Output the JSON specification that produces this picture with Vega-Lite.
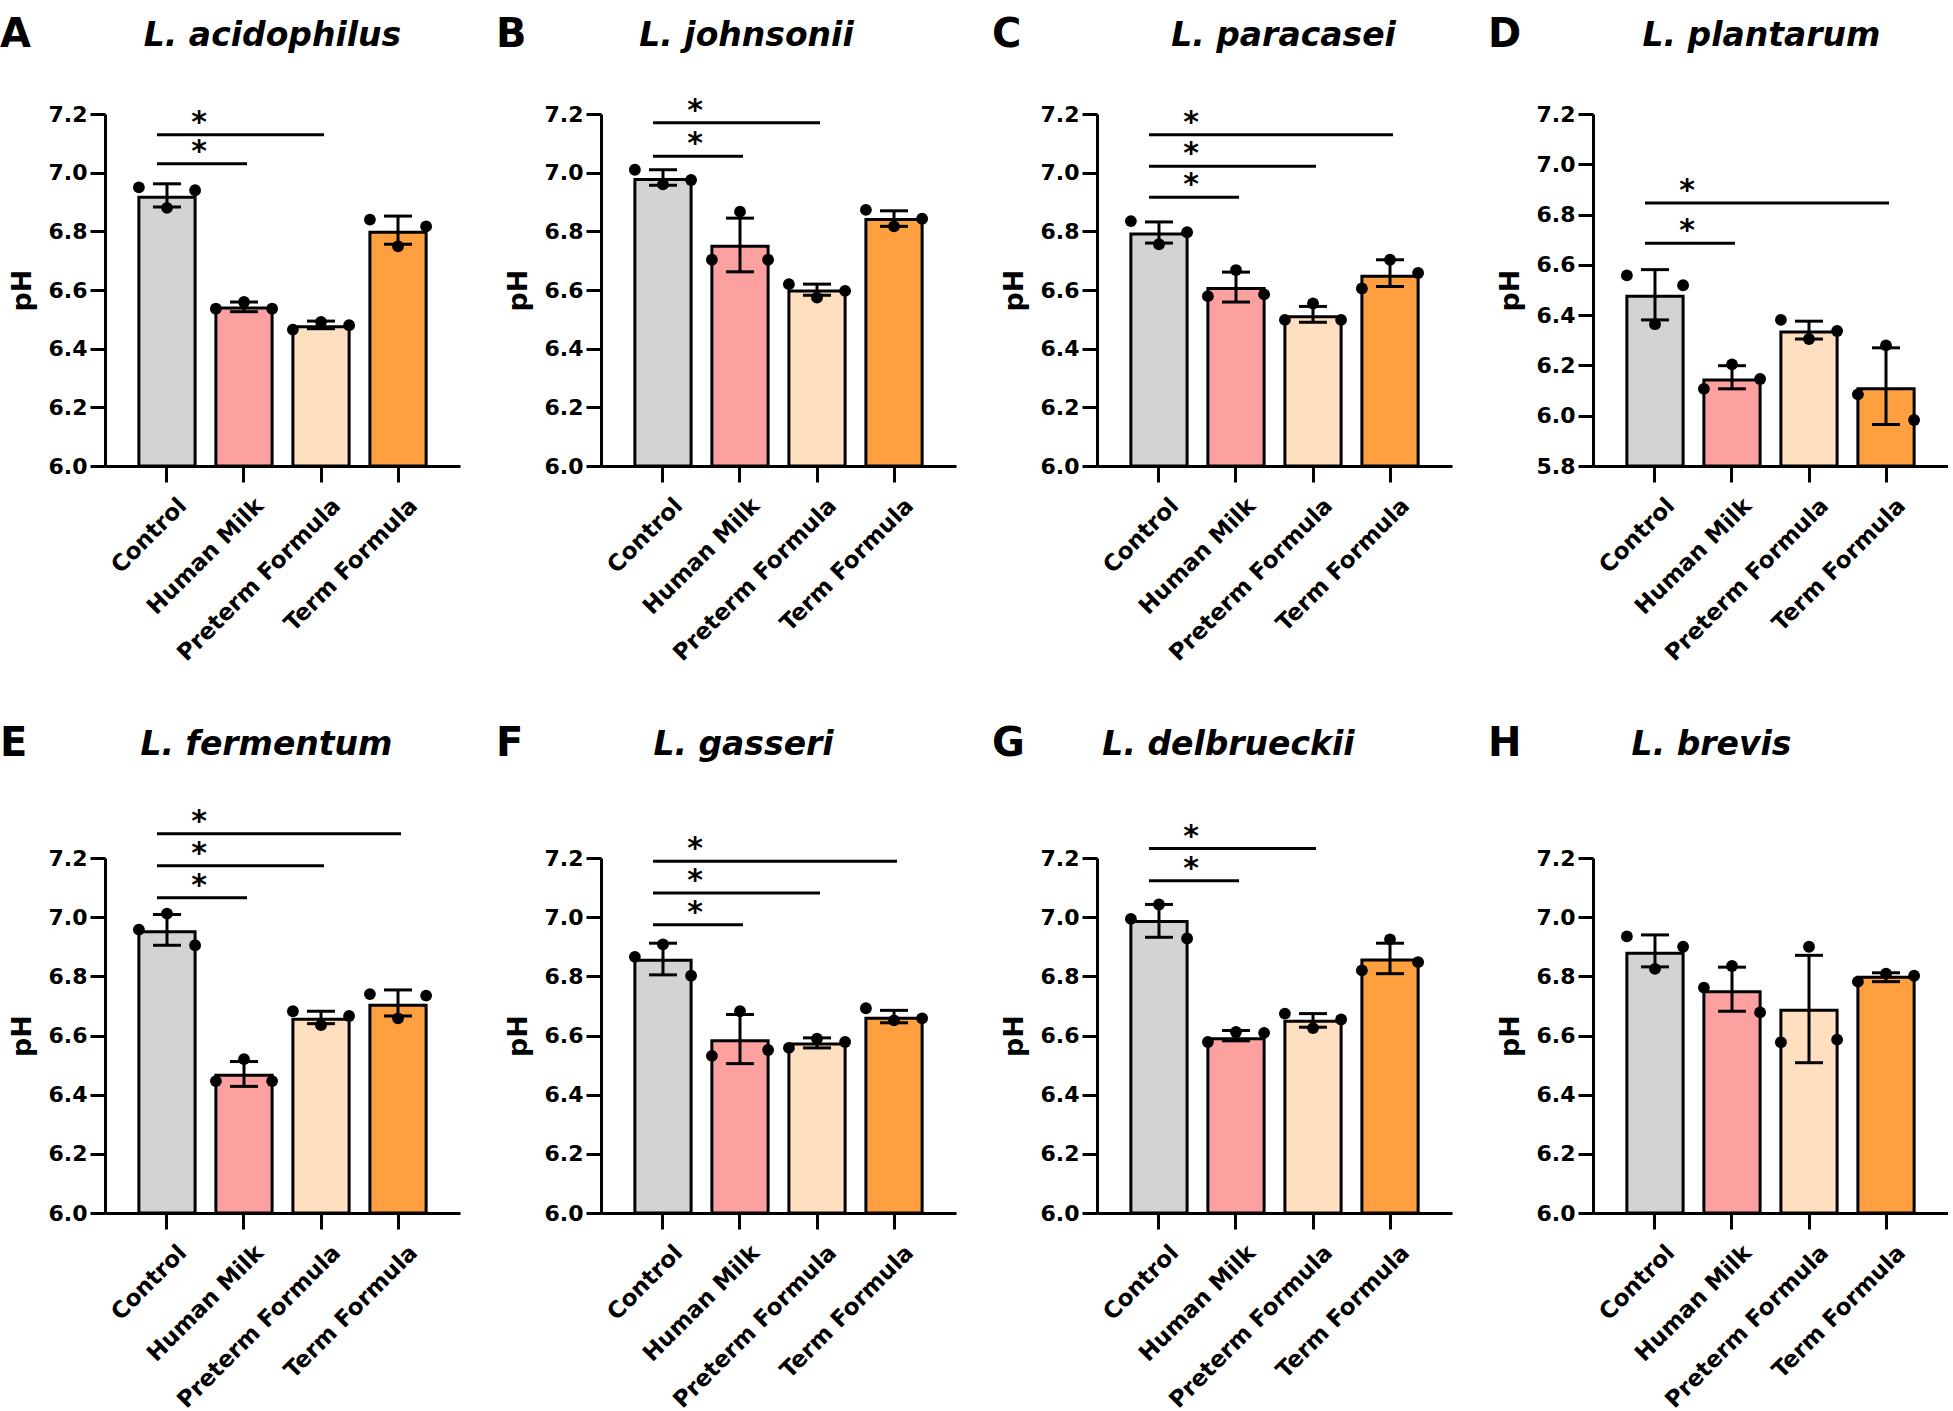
{
"$schema": "https://vega.github.io/schema/vega-lite/v6.json",
"background": "white",
"padding": {"left": 0, "top": 15, "right": 0, "bottom": 0},
"config": {
  "font": "DejaVu Sans",
  "view": {"stroke": null},
  "axis": {"domainColor": "black", "domainWidth": 3, "tickColor": "black", "tickWidth": 3, "labelColor": "black", "labelFontWeight": "bold", "labelFont": "DejaVu Sans", "titleColor": "black", "titleFontWeight": "bold", "titleFont": "DejaVu Sans", "grid": false, "labelLimit": 400},
  "axisY": {"title": "pH", "titleFontSize": 27, "titlePadding": 12, "format": ".1f", "labelFontSize": 22, "tickSize": 15, "labelPadding": 3},
  "title": {"color": "black", "font": "DejaVu Sans"}
},
"datasets": {
  "bars": [
    {"panel":"A","group":"Control","mean":6.916,"lo":6.883,"hi":6.962},
    {"panel":"A","group":"Human Milk","mean":6.539,"lo":6.526,"hi":6.559},
    {"panel":"A","group":"Preterm Formula","mean":6.475,"lo":6.468,"hi":6.494},
    {"panel":"A","group":"Term Formula","mean":6.797,"lo":6.756,"hi":6.852},
    {"panel":"B","group":"Control","mean":6.977,"lo":6.957,"hi":7.010},
    {"panel":"B","group":"Human Milk","mean":6.749,"lo":6.662,"hi":6.845},
    {"panel":"B","group":"Preterm Formula","mean":6.597,"lo":6.582,"hi":6.620},
    {"panel":"B","group":"Term Formula","mean":6.840,"lo":6.817,"hi":6.870},
    {"panel":"C","group":"Control","mean":6.791,"lo":6.760,"hi":6.832},
    {"panel":"C","group":"Human Milk","mean":6.605,"lo":6.559,"hi":6.661},
    {"panel":"C","group":"Preterm Formula","mean":6.509,"lo":6.490,"hi":6.544},
    {"panel":"C","group":"Term Formula","mean":6.647,"lo":6.612,"hi":6.703},
    {"panel":"D","group":"Control","mean":6.475,"lo":6.381,"hi":6.581},
    {"panel":"D","group":"Human Milk","mean":6.142,"lo":6.107,"hi":6.199},
    {"panel":"D","group":"Preterm Formula","mean":6.333,"lo":6.305,"hi":6.376},
    {"panel":"D","group":"Term Formula","mean":6.107,"lo":5.965,"hi":6.270},
    {"panel":"E","group":"Control","mean":6.951,"lo":6.905,"hi":7.009},
    {"panel":"E","group":"Human Milk","mean":6.466,"lo":6.428,"hi":6.512},
    {"panel":"E","group":"Preterm Formula","mean":6.655,"lo":6.640,"hi":6.682},
    {"panel":"E","group":"Term Formula","mean":6.702,"lo":6.666,"hi":6.754},
    {"panel":"F","group":"Control","mean":6.854,"lo":6.805,"hi":6.912},
    {"panel":"F","group":"Human Milk","mean":6.582,"lo":6.505,"hi":6.671},
    {"panel":"F","group":"Preterm Formula","mean":6.571,"lo":6.558,"hi":6.592},
    {"panel":"F","group":"Term Formula","mean":6.658,"lo":6.643,"hi":6.685},
    {"panel":"G","group":"Control","mean":6.985,"lo":6.932,"hi":7.043},
    {"panel":"G","group":"Human Milk","mean":6.589,"lo":6.582,"hi":6.617},
    {"panel":"G","group":"Preterm Formula","mean":6.648,"lo":6.628,"hi":6.674},
    {"panel":"G","group":"Term Formula","mean":6.855,"lo":6.809,"hi":6.912},
    {"panel":"H","group":"Control","mean":6.878,"lo":6.832,"hi":6.940},
    {"panel":"H","group":"Human Milk","mean":6.748,"lo":6.682,"hi":6.831},
    {"panel":"H","group":"Preterm Formula","mean":6.685,"lo":6.508,"hi":6.871},
    {"panel":"H","group":"Term Formula","mean":6.797,"lo":6.782,"hi":6.812}
  ],
  "points": [
    {"panel":"A","group":"Control","rep":1,"pH":6.95},{"panel":"A","group":"Control","rep":2,"pH":6.88},{"panel":"A","group":"Control","rep":3,"pH":6.94},
    {"panel":"A","group":"Human Milk","rep":1,"pH":6.536},{"panel":"A","group":"Human Milk","rep":2,"pH":6.559},{"panel":"A","group":"Human Milk","rep":3,"pH":6.536},
    {"panel":"A","group":"Preterm Formula","rep":1,"pH":6.465},{"panel":"A","group":"Preterm Formula","rep":2,"pH":6.491},{"panel":"A","group":"Preterm Formula","rep":3,"pH":6.48},
    {"panel":"A","group":"Term Formula","rep":1,"pH":6.84},{"panel":"A","group":"Term Formula","rep":2,"pH":6.749},{"panel":"A","group":"Term Formula","rep":3,"pH":6.817},
    {"panel":"B","group":"Control","rep":1,"pH":7.01},{"panel":"B","group":"Control","rep":2,"pH":6.96},{"panel":"B","group":"Control","rep":3,"pH":6.975},
    {"panel":"B","group":"Human Milk","rep":1,"pH":6.703},{"panel":"B","group":"Human Milk","rep":2,"pH":6.867},{"panel":"B","group":"Human Milk","rep":3,"pH":6.703},
    {"panel":"B","group":"Preterm Formula","rep":1,"pH":6.62},{"panel":"B","group":"Preterm Formula","rep":2,"pH":6.574},{"panel":"B","group":"Preterm Formula","rep":3,"pH":6.597},
    {"panel":"B","group":"Term Formula","rep":1,"pH":6.873},{"panel":"B","group":"Term Formula","rep":2,"pH":6.817},{"panel":"B","group":"Term Formula","rep":3,"pH":6.843},
    {"panel":"C","group":"Control","rep":1,"pH":6.835},{"panel":"C","group":"Control","rep":2,"pH":6.756},{"panel":"C","group":"Control","rep":3,"pH":6.797},
    {"panel":"C","group":"Human Milk","rep":1,"pH":6.579},{"panel":"C","group":"Human Milk","rep":2,"pH":6.668},{"panel":"C","group":"Human Milk","rep":3,"pH":6.585},
    {"panel":"C","group":"Preterm Formula","rep":1,"pH":6.498},{"panel":"C","group":"Preterm Formula","rep":2,"pH":6.554},{"panel":"C","group":"Preterm Formula","rep":3,"pH":6.498},
    {"panel":"C","group":"Term Formula","rep":1,"pH":6.605},{"panel":"C","group":"Term Formula","rep":2,"pH":6.703},{"panel":"C","group":"Term Formula","rep":3,"pH":6.658},
    {"panel":"D","group":"Control","rep":1,"pH":6.558},{"panel":"D","group":"Control","rep":2,"pH":6.364},{"panel":"D","group":"Control","rep":3,"pH":6.519},
    {"panel":"D","group":"Human Milk","rep":1,"pH":6.107},{"panel":"D","group":"Human Milk","rep":2,"pH":6.204},{"panel":"D","group":"Human Milk","rep":3,"pH":6.146},
    {"panel":"D","group":"Preterm Formula","rep":1,"pH":6.381},{"panel":"D","group":"Preterm Formula","rep":2,"pH":6.305},{"panel":"D","group":"Preterm Formula","rep":3,"pH":6.337},
    {"panel":"D","group":"Term Formula","rep":1,"pH":6.085},{"panel":"D","group":"Term Formula","rep":2,"pH":6.28},{"panel":"D","group":"Term Formula","rep":3,"pH":5.983},
    {"panel":"E","group":"Control","rep":1,"pH":6.958},{"panel":"E","group":"Control","rep":2,"pH":7.012},{"panel":"E","group":"Control","rep":3,"pH":6.905},
    {"panel":"E","group":"Human Milk","rep":1,"pH":6.446},{"panel":"E","group":"Human Milk","rep":2,"pH":6.52},{"panel":"E","group":"Human Milk","rep":3,"pH":6.446},
    {"panel":"E","group":"Preterm Formula","rep":1,"pH":6.682},{"panel":"E","group":"Preterm Formula","rep":2,"pH":6.635},{"panel":"E","group":"Preterm Formula","rep":3,"pH":6.666},
    {"panel":"E","group":"Term Formula","rep":1,"pH":6.74},{"panel":"E","group":"Term Formula","rep":2,"pH":6.658},{"panel":"E","group":"Term Formula","rep":3,"pH":6.735},
    {"panel":"F","group":"Control","rep":1,"pH":6.866},{"panel":"F","group":"Control","rep":2,"pH":6.908},{"panel":"F","group":"Control","rep":3,"pH":6.802},
    {"panel":"F","group":"Human Milk","rep":1,"pH":6.531},{"panel":"F","group":"Human Milk","rep":2,"pH":6.682},{"panel":"F","group":"Human Milk","rep":3,"pH":6.551},
    {"panel":"F","group":"Preterm Formula","rep":1,"pH":6.558},{"panel":"F","group":"Preterm Formula","rep":2,"pH":6.589},{"panel":"F","group":"Preterm Formula","rep":3,"pH":6.578},
    {"panel":"F","group":"Term Formula","rep":1,"pH":6.692},{"panel":"F","group":"Term Formula","rep":2,"pH":6.651},{"panel":"F","group":"Term Formula","rep":3,"pH":6.658},
    {"panel":"G","group":"Control","rep":1,"pH":6.994},{"panel":"G","group":"Control","rep":2,"pH":7.043},{"panel":"G","group":"Control","rep":3,"pH":6.928},
    {"panel":"G","group":"Human Milk","rep":1,"pH":6.578},{"panel":"G","group":"Human Milk","rep":2,"pH":6.612},{"panel":"G","group":"Human Milk","rep":3,"pH":6.609},
    {"panel":"G","group":"Preterm Formula","rep":1,"pH":6.674},{"panel":"G","group":"Preterm Formula","rep":2,"pH":6.625},{"panel":"G","group":"Preterm Formula","rep":3,"pH":6.654},
    {"panel":"G","group":"Term Formula","rep":1,"pH":6.82},{"panel":"G","group":"Term Formula","rep":2,"pH":6.925},{"panel":"G","group":"Term Formula","rep":3,"pH":6.848},
    {"panel":"H","group":"Control","rep":1,"pH":6.935},{"panel":"H","group":"Control","rep":2,"pH":6.825},{"panel":"H","group":"Control","rep":3,"pH":6.9},
    {"panel":"H","group":"Human Milk","rep":1,"pH":6.762},{"panel":"H","group":"Human Milk","rep":2,"pH":6.835},{"panel":"H","group":"Human Milk","rep":3,"pH":6.678},
    {"panel":"H","group":"Preterm Formula","rep":1,"pH":6.577},{"panel":"H","group":"Preterm Formula","rep":2,"pH":6.9},{"panel":"H","group":"Preterm Formula","rep":3,"pH":6.586},
    {"panel":"H","group":"Term Formula","rep":1,"pH":6.782},{"panel":"H","group":"Term Formula","rep":2,"pH":6.809},{"panel":"H","group":"Term Formula","rep":3,"pH":6.802}
  ],
  "sig": [
    {"panel":"A","from":"Control","to":"Human Milk","y":7.03},
    {"panel":"A","from":"Control","to":"Preterm Formula","y":7.129},
    {"panel":"B","from":"Control","to":"Human Milk","y":7.056},
    {"panel":"B","from":"Control","to":"Preterm Formula","y":7.17},
    {"panel":"C","from":"Control","to":"Human Milk","y":6.916},
    {"panel":"C","from":"Control","to":"Preterm Formula","y":7.022},
    {"panel":"C","from":"Control","to":"Term Formula","y":7.129},
    {"panel":"D","from":"Control","to":"Human Milk","y":6.686},
    {"panel":"D","from":"Control","to":"Term Formula","y":6.846},
    {"panel":"E","from":"Control","to":"Human Milk","y":7.066},
    {"panel":"E","from":"Control","to":"Preterm Formula","y":7.174},
    {"panel":"E","from":"Control","to":"Term Formula","y":7.282},
    {"panel":"F","from":"Control","to":"Human Milk","y":6.974},
    {"panel":"F","from":"Control","to":"Preterm Formula","y":7.082},
    {"panel":"F","from":"Control","to":"Term Formula","y":7.189},
    {"panel":"G","from":"Control","to":"Human Milk","y":7.123},
    {"panel":"G","from":"Control","to":"Preterm Formula","y":7.232}
  ]
},
"columns": 4,
"spacing": {"row": 58, "column": 36},
"concat": [
{"width":355,"height":352,
 "title":{"text":"A","anchor":"start","fontSize":40,"fontWeight":"bold","dx":-8,"dy":40},
 "resolve":{"axis":{"x":"independent"},"scale":{"xOffset":"independent"}},
 "layer":[
  {"data":{"name":"bars"},"transform":[{"filter":"datum.panel==='A'"}],"mark":{"type":"bar","stroke":"black","strokeWidth":3,"strokeJoin":"miter"},
   "encoding":{"x":{"field":"group","type":"nominal","sort":["Control","Human Milk","Preterm Formula","Term Formula"],"scale":{"paddingInner":0.27,"paddingOuter":0.44},"axis":{"title":null,"labelAngle":-45,"labelFontSize":23,"tickSize":16,"labelPadding":12,"labelOffset":8}},
    "y":{"field":"mean","type":"quantitative","scale":{"domain":[6,7.2],"zero":false,"nice":false},"axis":{"title":"pH","values":[6,6.2,6.4,6.6,6.8,7,7.2]}},
    "y2":{"datum":6},
    "fill":{"field":"group","type":"nominal","scale":{"domain":["Control","Human Milk","Preterm Formula","Term Formula"],"range":["#D3D3D3","#FDA0A0","#FFDFBF","#FFA040"]},"legend":null}}},
  {"data":{"name":"bars"},"transform":[{"filter":"datum.panel==='A'"}],"mark":{"type":"rule","color":"black","strokeWidth":3},
   "encoding":{"x":{"field":"group","type":"nominal","sort":["Control","Human Milk","Preterm Formula","Term Formula"],"axis":null},"y":{"field":"lo","type":"quantitative","scale":{"domain":[6,7.2],"zero":false,"nice":false},"axis":{"title":"pH","values":[6,6.2,6.4,6.6,6.8,7,7.2]}},"y2":{"field":"hi"}}},
  {"data":{"name":"bars"},"transform":[{"filter":"datum.panel==='A'"}],"mark":{"type":"tick","orient":"horizontal","size":28,"thickness":3,"color":"black","opacity":1},
   "encoding":{"x":{"field":"group","type":"nominal","sort":["Control","Human Milk","Preterm Formula","Term Formula"],"axis":null},"y":{"field":"lo","type":"quantitative","scale":{"domain":[6,7.2],"zero":false,"nice":false},"axis":{"title":"pH","values":[6,6.2,6.4,6.6,6.8,7,7.2]}}}},
  {"data":{"name":"bars"},"transform":[{"filter":"datum.panel==='A'"}],"mark":{"type":"tick","orient":"horizontal","size":28,"thickness":3,"color":"black","opacity":1},
   "encoding":{"x":{"field":"group","type":"nominal","sort":["Control","Human Milk","Preterm Formula","Term Formula"],"axis":null},"y":{"field":"hi","type":"quantitative","scale":{"domain":[6,7.2],"zero":false,"nice":false},"axis":{"title":"pH","values":[6,6.2,6.4,6.6,6.8,7,7.2]}}}},
  {"data":{"name":"points"},"transform":[{"filter":"datum.panel==='A'"}],"mark":{"type":"circle","color":"black","size":140,"opacity":1},
   "encoding":{"x":{"field":"group","type":"nominal","sort":["Control","Human Milk","Preterm Formula","Term Formula"],"axis":{"orient":"top","title":"L. acidophilus","labels":false,"ticks":false,"domain":false,"titleFontSize":33,"titleFontStyle":"italic","titleFontWeight":"bold","titlePadding":62,"titleX":167,"titleAlign":"center"}},
    "xOffset":{"field":"rep","type":"nominal","scale":{"paddingInner":0,"paddingOuter":0}},
    "y":{"field":"pH","type":"quantitative","scale":{"domain":[6,7.2],"zero":false,"nice":false},"axis":{"title":"pH","values":[6,6.2,6.4,6.6,6.8,7,7.2]}}}},
  {"data":{"name":"sig"},"transform":[{"filter":"datum.panel==='A'"}],"mark":{"type":"rule","color":"black","strokeWidth":3,"xOffset":-10,"x2Offset":3},
   "encoding":{"x":{"field":"from","type":"nominal","sort":["Control","Human Milk","Preterm Formula","Term Formula"],"axis":null},"x2":{"field":"to"},"y":{"field":"y","type":"quantitative","scale":{"domain":[6,7.2],"zero":false,"nice":false},"axis":{"title":"pH","values":[6,6.2,6.4,6.6,6.8,7,7.2]}}}},
  {"data":{"name":"sig"},"transform":[{"filter":"datum.panel==='A'"}],"mark":{"type":"text","text":"*","fontSize":30,"fontWeight":"bold","dx":32,"dy":-3,"color":"black","baseline":"alphabetic"},
   "encoding":{"x":{"field":"from","type":"nominal","sort":["Control","Human Milk","Preterm Formula","Term Formula"],"axis":null},"y":{"field":"y","type":"quantitative","scale":{"domain":[6,7.2],"zero":false,"nice":false},"axis":{"title":"pH","values":[6,6.2,6.4,6.6,6.8,7,7.2]}}}}
 ]},
{"width":355,"height":352,
 "title":{"text":"B","anchor":"start","fontSize":40,"fontWeight":"bold","dx":-8,"dy":40},
 "resolve":{"axis":{"x":"independent"},"scale":{"xOffset":"independent"}},
 "layer":[
  {"data":{"name":"bars"},"transform":[{"filter":"datum.panel==='B'"}],"mark":{"type":"bar","stroke":"black","strokeWidth":3,"strokeJoin":"miter"},
   "encoding":{"x":{"field":"group","type":"nominal","sort":["Control","Human Milk","Preterm Formula","Term Formula"],"scale":{"paddingInner":0.27,"paddingOuter":0.44},"axis":{"title":null,"labelAngle":-45,"labelFontSize":23,"tickSize":16,"labelPadding":12,"labelOffset":8}},
    "y":{"field":"mean","type":"quantitative","scale":{"domain":[6,7.2],"zero":false,"nice":false},"axis":{"title":"pH","values":[6,6.2,6.4,6.6,6.8,7,7.2]}},
    "y2":{"datum":6},
    "fill":{"field":"group","type":"nominal","scale":{"domain":["Control","Human Milk","Preterm Formula","Term Formula"],"range":["#D3D3D3","#FDA0A0","#FFDFBF","#FFA040"]},"legend":null}}},
  {"data":{"name":"bars"},"transform":[{"filter":"datum.panel==='B'"}],"mark":{"type":"rule","color":"black","strokeWidth":3},
   "encoding":{"x":{"field":"group","type":"nominal","sort":["Control","Human Milk","Preterm Formula","Term Formula"],"axis":null},"y":{"field":"lo","type":"quantitative","scale":{"domain":[6,7.2],"zero":false,"nice":false},"axis":{"title":"pH","values":[6,6.2,6.4,6.6,6.8,7,7.2]}},"y2":{"field":"hi"}}},
  {"data":{"name":"bars"},"transform":[{"filter":"datum.panel==='B'"}],"mark":{"type":"tick","orient":"horizontal","size":28,"thickness":3,"color":"black","opacity":1},
   "encoding":{"x":{"field":"group","type":"nominal","sort":["Control","Human Milk","Preterm Formula","Term Formula"],"axis":null},"y":{"field":"lo","type":"quantitative","scale":{"domain":[6,7.2],"zero":false,"nice":false},"axis":{"title":"pH","values":[6,6.2,6.4,6.6,6.8,7,7.2]}}}},
  {"data":{"name":"bars"},"transform":[{"filter":"datum.panel==='B'"}],"mark":{"type":"tick","orient":"horizontal","size":28,"thickness":3,"color":"black","opacity":1},
   "encoding":{"x":{"field":"group","type":"nominal","sort":["Control","Human Milk","Preterm Formula","Term Formula"],"axis":null},"y":{"field":"hi","type":"quantitative","scale":{"domain":[6,7.2],"zero":false,"nice":false},"axis":{"title":"pH","values":[6,6.2,6.4,6.6,6.8,7,7.2]}}}},
  {"data":{"name":"points"},"transform":[{"filter":"datum.panel==='B'"}],"mark":{"type":"circle","color":"black","size":140,"opacity":1},
   "encoding":{"x":{"field":"group","type":"nominal","sort":["Control","Human Milk","Preterm Formula","Term Formula"],"axis":{"orient":"top","title":"L. johnsonii","labels":false,"ticks":false,"domain":false,"titleFontSize":33,"titleFontStyle":"italic","titleFontWeight":"bold","titlePadding":62,"titleX":145,"titleAlign":"center"}},
    "xOffset":{"field":"rep","type":"nominal","scale":{"paddingInner":0,"paddingOuter":0}},
    "y":{"field":"pH","type":"quantitative","scale":{"domain":[6,7.2],"zero":false,"nice":false},"axis":{"title":"pH","values":[6,6.2,6.4,6.6,6.8,7,7.2]}}}},
  {"data":{"name":"sig"},"transform":[{"filter":"datum.panel==='B'"}],"mark":{"type":"rule","color":"black","strokeWidth":3,"xOffset":-10,"x2Offset":3},
   "encoding":{"x":{"field":"from","type":"nominal","sort":["Control","Human Milk","Preterm Formula","Term Formula"],"axis":null},"x2":{"field":"to"},"y":{"field":"y","type":"quantitative","scale":{"domain":[6,7.2],"zero":false,"nice":false},"axis":{"title":"pH","values":[6,6.2,6.4,6.6,6.8,7,7.2]}}}},
  {"data":{"name":"sig"},"transform":[{"filter":"datum.panel==='B'"}],"mark":{"type":"text","text":"*","fontSize":30,"fontWeight":"bold","dx":32,"dy":-3,"color":"black","baseline":"alphabetic"},
   "encoding":{"x":{"field":"from","type":"nominal","sort":["Control","Human Milk","Preterm Formula","Term Formula"],"axis":null},"y":{"field":"y","type":"quantitative","scale":{"domain":[6,7.2],"zero":false,"nice":false},"axis":{"title":"pH","values":[6,6.2,6.4,6.6,6.8,7,7.2]}}}}
 ]},
{"width":355,"height":352,
 "title":{"text":"C","anchor":"start","fontSize":40,"fontWeight":"bold","dx":-8,"dy":40},
 "resolve":{"axis":{"x":"independent"},"scale":{"xOffset":"independent"}},
 "layer":[
  {"data":{"name":"bars"},"transform":[{"filter":"datum.panel==='C'"}],"mark":{"type":"bar","stroke":"black","strokeWidth":3,"strokeJoin":"miter"},
   "encoding":{"x":{"field":"group","type":"nominal","sort":["Control","Human Milk","Preterm Formula","Term Formula"],"scale":{"paddingInner":0.27,"paddingOuter":0.44},"axis":{"title":null,"labelAngle":-45,"labelFontSize":23,"tickSize":16,"labelPadding":12,"labelOffset":8}},
    "y":{"field":"mean","type":"quantitative","scale":{"domain":[6,7.2],"zero":false,"nice":false},"axis":{"title":"pH","values":[6,6.2,6.4,6.6,6.8,7,7.2]}},
    "y2":{"datum":6},
    "fill":{"field":"group","type":"nominal","scale":{"domain":["Control","Human Milk","Preterm Formula","Term Formula"],"range":["#D3D3D3","#FDA0A0","#FFDFBF","#FFA040"]},"legend":null}}},
  {"data":{"name":"bars"},"transform":[{"filter":"datum.panel==='C'"}],"mark":{"type":"rule","color":"black","strokeWidth":3},
   "encoding":{"x":{"field":"group","type":"nominal","sort":["Control","Human Milk","Preterm Formula","Term Formula"],"axis":null},"y":{"field":"lo","type":"quantitative","scale":{"domain":[6,7.2],"zero":false,"nice":false},"axis":{"title":"pH","values":[6,6.2,6.4,6.6,6.8,7,7.2]}},"y2":{"field":"hi"}}},
  {"data":{"name":"bars"},"transform":[{"filter":"datum.panel==='C'"}],"mark":{"type":"tick","orient":"horizontal","size":28,"thickness":3,"color":"black","opacity":1},
   "encoding":{"x":{"field":"group","type":"nominal","sort":["Control","Human Milk","Preterm Formula","Term Formula"],"axis":null},"y":{"field":"lo","type":"quantitative","scale":{"domain":[6,7.2],"zero":false,"nice":false},"axis":{"title":"pH","values":[6,6.2,6.4,6.6,6.8,7,7.2]}}}},
  {"data":{"name":"bars"},"transform":[{"filter":"datum.panel==='C'"}],"mark":{"type":"tick","orient":"horizontal","size":28,"thickness":3,"color":"black","opacity":1},
   "encoding":{"x":{"field":"group","type":"nominal","sort":["Control","Human Milk","Preterm Formula","Term Formula"],"axis":null},"y":{"field":"hi","type":"quantitative","scale":{"domain":[6,7.2],"zero":false,"nice":false},"axis":{"title":"pH","values":[6,6.2,6.4,6.6,6.8,7,7.2]}}}},
  {"data":{"name":"points"},"transform":[{"filter":"datum.panel==='C'"}],"mark":{"type":"circle","color":"black","size":140,"opacity":1},
   "encoding":{"x":{"field":"group","type":"nominal","sort":["Control","Human Milk","Preterm Formula","Term Formula"],"axis":{"orient":"top","title":"L. paracasei","labels":false,"ticks":false,"domain":false,"titleFontSize":33,"titleFontStyle":"italic","titleFontWeight":"bold","titlePadding":62,"titleX":186,"titleAlign":"center"}},
    "xOffset":{"field":"rep","type":"nominal","scale":{"paddingInner":0,"paddingOuter":0}},
    "y":{"field":"pH","type":"quantitative","scale":{"domain":[6,7.2],"zero":false,"nice":false},"axis":{"title":"pH","values":[6,6.2,6.4,6.6,6.8,7,7.2]}}}},
  {"data":{"name":"sig"},"transform":[{"filter":"datum.panel==='C'"}],"mark":{"type":"rule","color":"black","strokeWidth":3,"xOffset":-10,"x2Offset":3},
   "encoding":{"x":{"field":"from","type":"nominal","sort":["Control","Human Milk","Preterm Formula","Term Formula"],"axis":null},"x2":{"field":"to"},"y":{"field":"y","type":"quantitative","scale":{"domain":[6,7.2],"zero":false,"nice":false},"axis":{"title":"pH","values":[6,6.2,6.4,6.6,6.8,7,7.2]}}}},
  {"data":{"name":"sig"},"transform":[{"filter":"datum.panel==='C'"}],"mark":{"type":"text","text":"*","fontSize":30,"fontWeight":"bold","dx":32,"dy":-3,"color":"black","baseline":"alphabetic"},
   "encoding":{"x":{"field":"from","type":"nominal","sort":["Control","Human Milk","Preterm Formula","Term Formula"],"axis":null},"y":{"field":"y","type":"quantitative","scale":{"domain":[6,7.2],"zero":false,"nice":false},"axis":{"title":"pH","values":[6,6.2,6.4,6.6,6.8,7,7.2]}}}}
 ]},
{"width":355,"height":352,
 "title":{"text":"D","anchor":"start","fontSize":40,"fontWeight":"bold","dx":-8,"dy":40},
 "resolve":{"axis":{"x":"independent"},"scale":{"xOffset":"independent"}},
 "layer":[
  {"data":{"name":"bars"},"transform":[{"filter":"datum.panel==='D'"}],"mark":{"type":"bar","stroke":"black","strokeWidth":3,"strokeJoin":"miter"},
   "encoding":{"x":{"field":"group","type":"nominal","sort":["Control","Human Milk","Preterm Formula","Term Formula"],"scale":{"paddingInner":0.27,"paddingOuter":0.44},"axis":{"title":null,"labelAngle":-45,"labelFontSize":23,"tickSize":16,"labelPadding":12,"labelOffset":8}},
    "y":{"field":"mean","type":"quantitative","scale":{"domain":[5.8,7.2],"zero":false,"nice":false},"axis":{"title":"pH","values":[5.8,6,6.2,6.4,6.6,6.8,7,7.2]}},
    "y2":{"datum":5.8},
    "fill":{"field":"group","type":"nominal","scale":{"domain":["Control","Human Milk","Preterm Formula","Term Formula"],"range":["#D3D3D3","#FDA0A0","#FFDFBF","#FFA040"]},"legend":null}}},
  {"data":{"name":"bars"},"transform":[{"filter":"datum.panel==='D'"}],"mark":{"type":"rule","color":"black","strokeWidth":3},
   "encoding":{"x":{"field":"group","type":"nominal","sort":["Control","Human Milk","Preterm Formula","Term Formula"],"axis":null},"y":{"field":"lo","type":"quantitative","scale":{"domain":[5.8,7.2],"zero":false,"nice":false},"axis":{"title":"pH","values":[5.8,6,6.2,6.4,6.6,6.8,7,7.2]}},"y2":{"field":"hi"}}},
  {"data":{"name":"bars"},"transform":[{"filter":"datum.panel==='D'"}],"mark":{"type":"tick","orient":"horizontal","size":28,"thickness":3,"color":"black","opacity":1},
   "encoding":{"x":{"field":"group","type":"nominal","sort":["Control","Human Milk","Preterm Formula","Term Formula"],"axis":null},"y":{"field":"lo","type":"quantitative","scale":{"domain":[5.8,7.2],"zero":false,"nice":false},"axis":{"title":"pH","values":[5.8,6,6.2,6.4,6.6,6.8,7,7.2]}}}},
  {"data":{"name":"bars"},"transform":[{"filter":"datum.panel==='D'"}],"mark":{"type":"tick","orient":"horizontal","size":28,"thickness":3,"color":"black","opacity":1},
   "encoding":{"x":{"field":"group","type":"nominal","sort":["Control","Human Milk","Preterm Formula","Term Formula"],"axis":null},"y":{"field":"hi","type":"quantitative","scale":{"domain":[5.8,7.2],"zero":false,"nice":false},"axis":{"title":"pH","values":[5.8,6,6.2,6.4,6.6,6.8,7,7.2]}}}},
  {"data":{"name":"points"},"transform":[{"filter":"datum.panel==='D'"}],"mark":{"type":"circle","color":"black","size":140,"opacity":1},
   "encoding":{"x":{"field":"group","type":"nominal","sort":["Control","Human Milk","Preterm Formula","Term Formula"],"axis":{"orient":"top","title":"L. plantarum","labels":false,"ticks":false,"domain":false,"titleFontSize":33,"titleFontStyle":"italic","titleFontWeight":"bold","titlePadding":62,"titleX":168,"titleAlign":"center"}},
    "xOffset":{"field":"rep","type":"nominal","scale":{"paddingInner":0,"paddingOuter":0}},
    "y":{"field":"pH","type":"quantitative","scale":{"domain":[5.8,7.2],"zero":false,"nice":false},"axis":{"title":"pH","values":[5.8,6,6.2,6.4,6.6,6.8,7,7.2]}}}},
  {"data":{"name":"sig"},"transform":[{"filter":"datum.panel==='D'"}],"mark":{"type":"rule","color":"black","strokeWidth":3,"xOffset":-10,"x2Offset":3},
   "encoding":{"x":{"field":"from","type":"nominal","sort":["Control","Human Milk","Preterm Formula","Term Formula"],"axis":null},"x2":{"field":"to"},"y":{"field":"y","type":"quantitative","scale":{"domain":[5.8,7.2],"zero":false,"nice":false},"axis":{"title":"pH","values":[5.8,6,6.2,6.4,6.6,6.8,7,7.2]}}}},
  {"data":{"name":"sig"},"transform":[{"filter":"datum.panel==='D'"}],"mark":{"type":"text","text":"*","fontSize":30,"fontWeight":"bold","dx":32,"dy":-3,"color":"black","baseline":"alphabetic"},
   "encoding":{"x":{"field":"from","type":"nominal","sort":["Control","Human Milk","Preterm Formula","Term Formula"],"axis":null},"y":{"field":"y","type":"quantitative","scale":{"domain":[5.8,7.2],"zero":false,"nice":false},"axis":{"title":"pH","values":[5.8,6,6.2,6.4,6.6,6.8,7,7.2]}}}}
 ]},
{"width":355,"height":355,
 "title":{"text":"E","anchor":"start","fontSize":40,"fontWeight":"bold","dx":-8,"dy":40},
 "resolve":{"axis":{"x":"independent"},"scale":{"xOffset":"independent"}},
 "layer":[
  {"data":{"name":"bars"},"transform":[{"filter":"datum.panel==='E'"}],"mark":{"type":"bar","stroke":"black","strokeWidth":3,"strokeJoin":"miter"},
   "encoding":{"x":{"field":"group","type":"nominal","sort":["Control","Human Milk","Preterm Formula","Term Formula"],"scale":{"paddingInner":0.27,"paddingOuter":0.44},"axis":{"title":null,"labelAngle":-45,"labelFontSize":23,"tickSize":16,"labelPadding":12,"labelOffset":8}},
    "y":{"field":"mean","type":"quantitative","scale":{"domain":[6,7.2],"zero":false,"nice":false},"axis":{"title":"pH","values":[6,6.2,6.4,6.6,6.8,7,7.2]}},
    "y2":{"datum":6},
    "fill":{"field":"group","type":"nominal","scale":{"domain":["Control","Human Milk","Preterm Formula","Term Formula"],"range":["#D3D3D3","#FDA0A0","#FFDFBF","#FFA040"]},"legend":null}}},
  {"data":{"name":"bars"},"transform":[{"filter":"datum.panel==='E'"}],"mark":{"type":"rule","color":"black","strokeWidth":3},
   "encoding":{"x":{"field":"group","type":"nominal","sort":["Control","Human Milk","Preterm Formula","Term Formula"],"axis":null},"y":{"field":"lo","type":"quantitative","scale":{"domain":[6,7.2],"zero":false,"nice":false},"axis":{"title":"pH","values":[6,6.2,6.4,6.6,6.8,7,7.2]}},"y2":{"field":"hi"}}},
  {"data":{"name":"bars"},"transform":[{"filter":"datum.panel==='E'"}],"mark":{"type":"tick","orient":"horizontal","size":28,"thickness":3,"color":"black","opacity":1},
   "encoding":{"x":{"field":"group","type":"nominal","sort":["Control","Human Milk","Preterm Formula","Term Formula"],"axis":null},"y":{"field":"lo","type":"quantitative","scale":{"domain":[6,7.2],"zero":false,"nice":false},"axis":{"title":"pH","values":[6,6.2,6.4,6.6,6.8,7,7.2]}}}},
  {"data":{"name":"bars"},"transform":[{"filter":"datum.panel==='E'"}],"mark":{"type":"tick","orient":"horizontal","size":28,"thickness":3,"color":"black","opacity":1},
   "encoding":{"x":{"field":"group","type":"nominal","sort":["Control","Human Milk","Preterm Formula","Term Formula"],"axis":null},"y":{"field":"hi","type":"quantitative","scale":{"domain":[6,7.2],"zero":false,"nice":false},"axis":{"title":"pH","values":[6,6.2,6.4,6.6,6.8,7,7.2]}}}},
  {"data":{"name":"points"},"transform":[{"filter":"datum.panel==='E'"}],"mark":{"type":"circle","color":"black","size":140,"opacity":1},
   "encoding":{"x":{"field":"group","type":"nominal","sort":["Control","Human Milk","Preterm Formula","Term Formula"],"axis":{"orient":"top","title":"L. fermentum","labels":false,"ticks":false,"domain":false,"titleFontSize":33,"titleFontStyle":"italic","titleFontWeight":"bold","titlePadding":97,"titleX":161,"titleAlign":"center"}},
    "xOffset":{"field":"rep","type":"nominal","scale":{"paddingInner":0,"paddingOuter":0}},
    "y":{"field":"pH","type":"quantitative","scale":{"domain":[6,7.2],"zero":false,"nice":false},"axis":{"title":"pH","values":[6,6.2,6.4,6.6,6.8,7,7.2]}}}},
  {"data":{"name":"sig"},"transform":[{"filter":"datum.panel==='E'"}],"mark":{"type":"rule","color":"black","strokeWidth":3,"xOffset":-10,"x2Offset":3},
   "encoding":{"x":{"field":"from","type":"nominal","sort":["Control","Human Milk","Preterm Formula","Term Formula"],"axis":null},"x2":{"field":"to"},"y":{"field":"y","type":"quantitative","scale":{"domain":[6,7.2],"zero":false,"nice":false},"axis":{"title":"pH","values":[6,6.2,6.4,6.6,6.8,7,7.2]}}}},
  {"data":{"name":"sig"},"transform":[{"filter":"datum.panel==='E'"}],"mark":{"type":"text","text":"*","fontSize":30,"fontWeight":"bold","dx":32,"dy":-3,"color":"black","baseline":"alphabetic"},
   "encoding":{"x":{"field":"from","type":"nominal","sort":["Control","Human Milk","Preterm Formula","Term Formula"],"axis":null},"y":{"field":"y","type":"quantitative","scale":{"domain":[6,7.2],"zero":false,"nice":false},"axis":{"title":"pH","values":[6,6.2,6.4,6.6,6.8,7,7.2]}}}}
 ]},
{"width":355,"height":355,
 "title":{"text":"F","anchor":"start","fontSize":40,"fontWeight":"bold","dx":-8,"dy":40},
 "resolve":{"axis":{"x":"independent"},"scale":{"xOffset":"independent"}},
 "layer":[
  {"data":{"name":"bars"},"transform":[{"filter":"datum.panel==='F'"}],"mark":{"type":"bar","stroke":"black","strokeWidth":3,"strokeJoin":"miter"},
   "encoding":{"x":{"field":"group","type":"nominal","sort":["Control","Human Milk","Preterm Formula","Term Formula"],"scale":{"paddingInner":0.27,"paddingOuter":0.44},"axis":{"title":null,"labelAngle":-45,"labelFontSize":23,"tickSize":16,"labelPadding":12,"labelOffset":8}},
    "y":{"field":"mean","type":"quantitative","scale":{"domain":[6,7.2],"zero":false,"nice":false},"axis":{"title":"pH","values":[6,6.2,6.4,6.6,6.8,7,7.2]}},
    "y2":{"datum":6},
    "fill":{"field":"group","type":"nominal","scale":{"domain":["Control","Human Milk","Preterm Formula","Term Formula"],"range":["#D3D3D3","#FDA0A0","#FFDFBF","#FFA040"]},"legend":null}}},
  {"data":{"name":"bars"},"transform":[{"filter":"datum.panel==='F'"}],"mark":{"type":"rule","color":"black","strokeWidth":3},
   "encoding":{"x":{"field":"group","type":"nominal","sort":["Control","Human Milk","Preterm Formula","Term Formula"],"axis":null},"y":{"field":"lo","type":"quantitative","scale":{"domain":[6,7.2],"zero":false,"nice":false},"axis":{"title":"pH","values":[6,6.2,6.4,6.6,6.8,7,7.2]}},"y2":{"field":"hi"}}},
  {"data":{"name":"bars"},"transform":[{"filter":"datum.panel==='F'"}],"mark":{"type":"tick","orient":"horizontal","size":28,"thickness":3,"color":"black","opacity":1},
   "encoding":{"x":{"field":"group","type":"nominal","sort":["Control","Human Milk","Preterm Formula","Term Formula"],"axis":null},"y":{"field":"lo","type":"quantitative","scale":{"domain":[6,7.2],"zero":false,"nice":false},"axis":{"title":"pH","values":[6,6.2,6.4,6.6,6.8,7,7.2]}}}},
  {"data":{"name":"bars"},"transform":[{"filter":"datum.panel==='F'"}],"mark":{"type":"tick","orient":"horizontal","size":28,"thickness":3,"color":"black","opacity":1},
   "encoding":{"x":{"field":"group","type":"nominal","sort":["Control","Human Milk","Preterm Formula","Term Formula"],"axis":null},"y":{"field":"hi","type":"quantitative","scale":{"domain":[6,7.2],"zero":false,"nice":false},"axis":{"title":"pH","values":[6,6.2,6.4,6.6,6.8,7,7.2]}}}},
  {"data":{"name":"points"},"transform":[{"filter":"datum.panel==='F'"}],"mark":{"type":"circle","color":"black","size":140,"opacity":1},
   "encoding":{"x":{"field":"group","type":"nominal","sort":["Control","Human Milk","Preterm Formula","Term Formula"],"axis":{"orient":"top","title":"L. gasseri","labels":false,"ticks":false,"domain":false,"titleFontSize":33,"titleFontStyle":"italic","titleFontWeight":"bold","titlePadding":97,"titleX":142,"titleAlign":"center"}},
    "xOffset":{"field":"rep","type":"nominal","scale":{"paddingInner":0,"paddingOuter":0}},
    "y":{"field":"pH","type":"quantitative","scale":{"domain":[6,7.2],"zero":false,"nice":false},"axis":{"title":"pH","values":[6,6.2,6.4,6.6,6.8,7,7.2]}}}},
  {"data":{"name":"sig"},"transform":[{"filter":"datum.panel==='F'"}],"mark":{"type":"rule","color":"black","strokeWidth":3,"xOffset":-10,"x2Offset":3},
   "encoding":{"x":{"field":"from","type":"nominal","sort":["Control","Human Milk","Preterm Formula","Term Formula"],"axis":null},"x2":{"field":"to"},"y":{"field":"y","type":"quantitative","scale":{"domain":[6,7.2],"zero":false,"nice":false},"axis":{"title":"pH","values":[6,6.2,6.4,6.6,6.8,7,7.2]}}}},
  {"data":{"name":"sig"},"transform":[{"filter":"datum.panel==='F'"}],"mark":{"type":"text","text":"*","fontSize":30,"fontWeight":"bold","dx":32,"dy":-3,"color":"black","baseline":"alphabetic"},
   "encoding":{"x":{"field":"from","type":"nominal","sort":["Control","Human Milk","Preterm Formula","Term Formula"],"axis":null},"y":{"field":"y","type":"quantitative","scale":{"domain":[6,7.2],"zero":false,"nice":false},"axis":{"title":"pH","values":[6,6.2,6.4,6.6,6.8,7,7.2]}}}}
 ]},
{"width":355,"height":355,
 "title":{"text":"G","anchor":"start","fontSize":40,"fontWeight":"bold","dx":-8,"dy":40},
 "resolve":{"axis":{"x":"independent"},"scale":{"xOffset":"independent"}},
 "layer":[
  {"data":{"name":"bars"},"transform":[{"filter":"datum.panel==='G'"}],"mark":{"type":"bar","stroke":"black","strokeWidth":3,"strokeJoin":"miter"},
   "encoding":{"x":{"field":"group","type":"nominal","sort":["Control","Human Milk","Preterm Formula","Term Formula"],"scale":{"paddingInner":0.27,"paddingOuter":0.44},"axis":{"title":null,"labelAngle":-45,"labelFontSize":23,"tickSize":16,"labelPadding":12,"labelOffset":8}},
    "y":{"field":"mean","type":"quantitative","scale":{"domain":[6,7.2],"zero":false,"nice":false},"axis":{"title":"pH","values":[6,6.2,6.4,6.6,6.8,7,7.2]}},
    "y2":{"datum":6},
    "fill":{"field":"group","type":"nominal","scale":{"domain":["Control","Human Milk","Preterm Formula","Term Formula"],"range":["#D3D3D3","#FDA0A0","#FFDFBF","#FFA040"]},"legend":null}}},
  {"data":{"name":"bars"},"transform":[{"filter":"datum.panel==='G'"}],"mark":{"type":"rule","color":"black","strokeWidth":3},
   "encoding":{"x":{"field":"group","type":"nominal","sort":["Control","Human Milk","Preterm Formula","Term Formula"],"axis":null},"y":{"field":"lo","type":"quantitative","scale":{"domain":[6,7.2],"zero":false,"nice":false},"axis":{"title":"pH","values":[6,6.2,6.4,6.6,6.8,7,7.2]}},"y2":{"field":"hi"}}},
  {"data":{"name":"bars"},"transform":[{"filter":"datum.panel==='G'"}],"mark":{"type":"tick","orient":"horizontal","size":28,"thickness":3,"color":"black","opacity":1},
   "encoding":{"x":{"field":"group","type":"nominal","sort":["Control","Human Milk","Preterm Formula","Term Formula"],"axis":null},"y":{"field":"lo","type":"quantitative","scale":{"domain":[6,7.2],"zero":false,"nice":false},"axis":{"title":"pH","values":[6,6.2,6.4,6.6,6.8,7,7.2]}}}},
  {"data":{"name":"bars"},"transform":[{"filter":"datum.panel==='G'"}],"mark":{"type":"tick","orient":"horizontal","size":28,"thickness":3,"color":"black","opacity":1},
   "encoding":{"x":{"field":"group","type":"nominal","sort":["Control","Human Milk","Preterm Formula","Term Formula"],"axis":null},"y":{"field":"hi","type":"quantitative","scale":{"domain":[6,7.2],"zero":false,"nice":false},"axis":{"title":"pH","values":[6,6.2,6.4,6.6,6.8,7,7.2]}}}},
  {"data":{"name":"points"},"transform":[{"filter":"datum.panel==='G'"}],"mark":{"type":"circle","color":"black","size":140,"opacity":1},
   "encoding":{"x":{"field":"group","type":"nominal","sort":["Control","Human Milk","Preterm Formula","Term Formula"],"axis":{"orient":"top","title":"L. delbrueckii","labels":false,"ticks":false,"domain":false,"titleFontSize":33,"titleFontStyle":"italic","titleFontWeight":"bold","titlePadding":97,"titleX":131,"titleAlign":"center"}},
    "xOffset":{"field":"rep","type":"nominal","scale":{"paddingInner":0,"paddingOuter":0}},
    "y":{"field":"pH","type":"quantitative","scale":{"domain":[6,7.2],"zero":false,"nice":false},"axis":{"title":"pH","values":[6,6.2,6.4,6.6,6.8,7,7.2]}}}},
  {"data":{"name":"sig"},"transform":[{"filter":"datum.panel==='G'"}],"mark":{"type":"rule","color":"black","strokeWidth":3,"xOffset":-10,"x2Offset":3},
   "encoding":{"x":{"field":"from","type":"nominal","sort":["Control","Human Milk","Preterm Formula","Term Formula"],"axis":null},"x2":{"field":"to"},"y":{"field":"y","type":"quantitative","scale":{"domain":[6,7.2],"zero":false,"nice":false},"axis":{"title":"pH","values":[6,6.2,6.4,6.6,6.8,7,7.2]}}}},
  {"data":{"name":"sig"},"transform":[{"filter":"datum.panel==='G'"}],"mark":{"type":"text","text":"*","fontSize":30,"fontWeight":"bold","dx":32,"dy":-3,"color":"black","baseline":"alphabetic"},
   "encoding":{"x":{"field":"from","type":"nominal","sort":["Control","Human Milk","Preterm Formula","Term Formula"],"axis":null},"y":{"field":"y","type":"quantitative","scale":{"domain":[6,7.2],"zero":false,"nice":false},"axis":{"title":"pH","values":[6,6.2,6.4,6.6,6.8,7,7.2]}}}}
 ]},
{"width":355,"height":355,
 "title":{"text":"H","anchor":"start","fontSize":40,"fontWeight":"bold","dx":-8,"dy":40},
 "resolve":{"axis":{"x":"independent"},"scale":{"xOffset":"independent"}},
 "layer":[
  {"data":{"name":"bars"},"transform":[{"filter":"datum.panel==='H'"}],"mark":{"type":"bar","stroke":"black","strokeWidth":3,"strokeJoin":"miter"},
   "encoding":{"x":{"field":"group","type":"nominal","sort":["Control","Human Milk","Preterm Formula","Term Formula"],"scale":{"paddingInner":0.27,"paddingOuter":0.44},"axis":{"title":null,"labelAngle":-45,"labelFontSize":23,"tickSize":16,"labelPadding":12,"labelOffset":8}},
    "y":{"field":"mean","type":"quantitative","scale":{"domain":[6,7.2],"zero":false,"nice":false},"axis":{"title":"pH","values":[6,6.2,6.4,6.6,6.8,7,7.2]}},
    "y2":{"datum":6},
    "fill":{"field":"group","type":"nominal","scale":{"domain":["Control","Human Milk","Preterm Formula","Term Formula"],"range":["#D3D3D3","#FDA0A0","#FFDFBF","#FFA040"]},"legend":null}}},
  {"data":{"name":"bars"},"transform":[{"filter":"datum.panel==='H'"}],"mark":{"type":"rule","color":"black","strokeWidth":3},
   "encoding":{"x":{"field":"group","type":"nominal","sort":["Control","Human Milk","Preterm Formula","Term Formula"],"axis":null},"y":{"field":"lo","type":"quantitative","scale":{"domain":[6,7.2],"zero":false,"nice":false},"axis":{"title":"pH","values":[6,6.2,6.4,6.6,6.8,7,7.2]}},"y2":{"field":"hi"}}},
  {"data":{"name":"bars"},"transform":[{"filter":"datum.panel==='H'"}],"mark":{"type":"tick","orient":"horizontal","size":28,"thickness":3,"color":"black","opacity":1},
   "encoding":{"x":{"field":"group","type":"nominal","sort":["Control","Human Milk","Preterm Formula","Term Formula"],"axis":null},"y":{"field":"lo","type":"quantitative","scale":{"domain":[6,7.2],"zero":false,"nice":false},"axis":{"title":"pH","values":[6,6.2,6.4,6.6,6.8,7,7.2]}}}},
  {"data":{"name":"bars"},"transform":[{"filter":"datum.panel==='H'"}],"mark":{"type":"tick","orient":"horizontal","size":28,"thickness":3,"color":"black","opacity":1},
   "encoding":{"x":{"field":"group","type":"nominal","sort":["Control","Human Milk","Preterm Formula","Term Formula"],"axis":null},"y":{"field":"hi","type":"quantitative","scale":{"domain":[6,7.2],"zero":false,"nice":false},"axis":{"title":"pH","values":[6,6.2,6.4,6.6,6.8,7,7.2]}}}},
  {"data":{"name":"points"},"transform":[{"filter":"datum.panel==='H'"}],"mark":{"type":"circle","color":"black","size":140,"opacity":1},
   "encoding":{"x":{"field":"group","type":"nominal","sort":["Control","Human Milk","Preterm Formula","Term Formula"],"axis":{"orient":"top","title":"L. brevis","labels":false,"ticks":false,"domain":false,"titleFontSize":33,"titleFontStyle":"italic","titleFontWeight":"bold","titlePadding":97,"titleX":118,"titleAlign":"center"}},
    "xOffset":{"field":"rep","type":"nominal","scale":{"paddingInner":0,"paddingOuter":0}},
    "y":{"field":"pH","type":"quantitative","scale":{"domain":[6,7.2],"zero":false,"nice":false},"axis":{"title":"pH","values":[6,6.2,6.4,6.6,6.8,7,7.2]}}}}
 ]}
]
}
